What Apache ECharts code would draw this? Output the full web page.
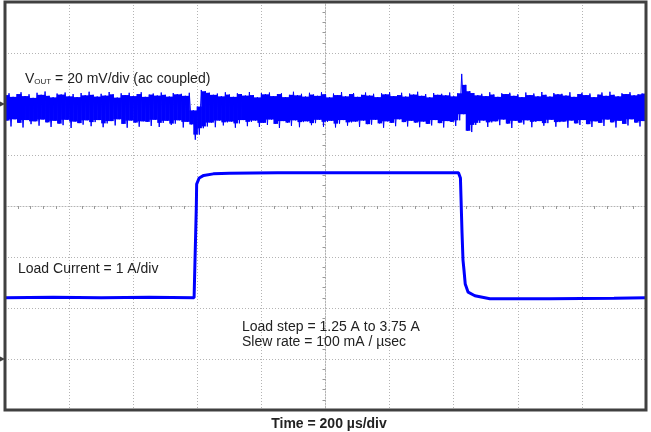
<!DOCTYPE html>
<html>
<head>
<meta charset="utf-8">
<script src="https://cdn.jsdelivr.net/npm/echarts@6/dist/echarts.min.js"></script>
<style>html,body{margin:0;padding:0;background:#fff}#c{width:651px;height:432px}</style>
</head>
<body>
<div id="c"></div>
<script>
// ---- Data (read from the scope capture) ----
// Vout ripple envelope (mV, ac coupled, 20 mV/div), one sample every 12.5 us
const voutStepUs = 12.5;
const voutUpper = [3.5,4.2,2.8,3.9,4.6,3.1,3.8,2.4,4.4,3.6,4.9,3.2,2.6,4.1,3.7,4.5,3.0,3.9,2.7,4.3,
3.4,4.8,3.6,2.9,4.0,3.3,4.7,3.8,2.5,4.2,3.5,4.4,3.1,3.9,4.6,2.8,3.7,4.1,3.3,4.5,
3.6,2.9,4.3,3.8,4.0,3.2,4.4,-2.5,-1.0,5.5,5.0,4.4,3.6,4.1,3.0,4.6,3.7,2.8,4.2,3.9,
3.3,4.7,3.5,2.6,4.3,3.8,4.5,3.1,3.9,4.2,2.7,3.6,4.8,3.4,4.0,2.9,4.4,3.7,3.2,4.6,
3.8,2.6,4.1,3.5,4.7,3.0,3.9,4.3,2.8,3.6,4.5,3.3,4.0,2.7,4.2,3.8,4.6,3.1,3.5,4.4,
2.9,4.1,3.7,4.8,3.2,3.9,2.6,4.3,3.6,4.0,3.4,4.5,3.0,4.2,11.8,7.5,5.0,4.3,3.4,4.0,
3.1,4.6,3.7,2.8,4.2,3.9,4.4,3.2,3.8,2.7,4.5,3.5,4.1,3.0,4.7,3.6,2.9,4.3,3.8,4.0,
3.3,4.6,2.8,3.9,4.4,3.5,4.1,2.7,3.7,4.5,3.2,4.8,3.6,3.0,4.2,3.9,4.6,3.4,3.8,4.1];
const voutLower = [-6.5,-8.8,-6.0,-7.4,-9.2,-6.3,-7.9,-6.8,-8.5,-6.1,-7.2,-9.0,-6.6,-7.7,-8.3,-6.2,-9.4,-6.9,-7.5,-8.1,
-6.4,-8.7,-7.1,-6.3,-9.1,-7.6,-6.7,-8.4,-6.0,-7.8,-9.3,-6.5,-7.3,-8.9,-6.8,-7.0,-8.6,-6.2,-9.0,-7.4,
-6.6,-8.2,-7.7,-6.4,-9.2,-7.0,-8.0,-14.0,-12.0,-9.5,-8.8,-7.3,-9.1,-6.5,-8.4,-7.2,-6.9,-9.3,-7.6,-6.3,
-8.7,-7.0,-6.5,-9.0,-7.4,-8.2,-6.1,-7.8,-9.4,-6.7,-7.3,-8.6,-6.4,-9.1,-7.1,-6.8,-8.3,-7.5,-6.2,-8.9,
-7.0,-6.6,-9.2,-7.7,-6.3,-8.5,-7.2,-6.9,-9.0,-6.5,-7.9,-8.1,-6.2,-7.6,-9.3,-6.8,-7.4,-8.7,-6.0,-7.1,
-8.8,-6.6,-7.3,-9.1,-6.9,-7.8,-8.4,-6.3,-7.5,-9.2,-6.7,-7.0,-8.6,-6.4,-4.0,-10.5,-11.0,-8.2,-7.4,-6.5,
-9.0,-7.2,-6.8,-8.3,-6.1,-7.7,-9.4,-6.6,-7.3,-8.0,-6.4,-9.1,-7.0,-6.7,-8.5,-7.5,-6.2,-8.9,-7.1,-6.9,
-9.3,-6.5,-7.6,-8.2,-6.3,-7.9,-9.0,-6.8,-7.4,-8.6,-6.1,-7.2,-9.2,-6.6,-7.8,-8.4,-6.0,-7.3,-8.8,-6.7];

// Load current (A, 1 A/div)
const currentT = [0,150,300,450,590,595,597,598,606,620,650,700,850,1000,1150,1300,1415,1421,1426,1429,1432,1436,1445,1466,1513,1700,1900,2000];
const currentA = [1.20,1.21,1.20,1.21,1.20,1.22,3.00,3.43,3.55,3.60,3.63,3.64,3.65,3.65,3.65,3.65,3.65,3.55,2.47,1.94,1.75,1.47,1.31,1.24,1.18,1.18,1.19,1.20];

// Axes (time 200 us/div, 10 div; Vout 20 mV/div; current 1 A/div)
const timeMin = 0, timeMax = 2000, timeDiv = 200;
const voutMin = -120, voutMax = 40, voutDiv = 20;
const curMin = -1, curMax = 7, curDiv = 1;

// ---- Build series ----
const voutData = [];
const coreData = [];
const n = voutUpper.length;
for (let i = 0; i < n; i++) {
  const t = i * voutStepUs;
  voutData.push([t, voutUpper[i]]);
  voutData.push([t + voutStepUs / 2, voutLower[i]]);
  const j = Math.min(i + 1, n - 1);
  coreData.push([t, t + voutStepUs, Math.min(voutUpper[i], voutUpper[j]), Math.max(voutLower[i], voutLower[j])]);
}
const curData = currentT.map((t, i) => [t, currentA[i]]);

const gridColor = '#b4b4b4';
const blue = '#0000ff';
const textColor = '#222';
const font = 'Liberation Sans, Arial, sans-serif';

const chart = echarts.init(document.getElementById('c'), null, {renderer: 'canvas'});
chart.setOption({
  animation: false,
  backgroundColor: '#fff',
  grid: {left: 5, right: 5, top: 2, bottom: 22, show: true, borderColor: '#404040', borderWidth: 3, backgroundColor: 'transparent', z: 5},
  xAxis: [
    {type: 'value', min: timeMin, max: timeMax, interval: timeDiv,
     axisLabel: {show: false}, axisTick: {show: false},
     axisLine: {show: true, onZero: true, onZeroAxisIndex: 2, lineStyle: {color: gridColor, type: [1, 2], width: 1}},
     minorTick: {show: true, splitNumber: 5, length: 3, lineStyle: {color: '#999'}},
     splitLine: {show: true, lineStyle: {color: gridColor, type: [1, 2], width: 1}}},
    {type: 'value', min: -5, max: 5, show: false}
  ],
  yAxis: [
    {type: 'value', min: voutMin, max: voutMax, interval: voutDiv,
     axisLabel: {show: false}, axisTick: {show: false},
     axisLine: {show: true, onZero: true, onZeroAxisIndex: 1, lineStyle: {color: gridColor, type: [1, 2], width: 1}},
     minorTick: {show: true, splitNumber: 5, length: 3, lineStyle: {color: '#999'}},
     splitLine: {show: true, lineStyle: {color: gridColor, type: [1, 2], width: 1}}},
    {type: 'value', min: curMin, max: curMax, interval: curDiv, show: false},
    {type: 'value', min: -4, max: 4, interval: 1, show: false}
  ],
  series: [
    {type: 'custom', xAxisIndex: 0, yAxisIndex: 0, data: coreData, silent: true, z: 2,
     encode: {x: [0, 1], y: [2, 3]},
     renderItem: function (params, api) {
       const p0 = api.coord([api.value(0), api.value(2)]);
       const p1 = api.coord([api.value(1), api.value(3)]);
       return {type: 'rect', shape: {x: p0[0], y: p0[1], width: p1[0] - p0[0] + 0.6, height: p1[1] - p0[1]},
               style: {fill: blue}};
     },
     clip: true},
    {type: 'line', xAxisIndex: 0, yAxisIndex: 0, data: voutData, showSymbol: false, symbol: 'none',
     lineStyle: {color: blue, width: 1}, z: 3,
     markPoint: {symbol: 'triangle', symbolSize: [6, 6], symbolRotate: -90, symbolOffset: [-3, 0], silent: true,
       itemStyle: {color: '#404040'}, label: {show: false}, data: [{coord: [timeMin, 0]}]}},
    {type: 'line', xAxisIndex: 0, yAxisIndex: 1, data: curData, showSymbol: false, symbol: 'none',
     lineStyle: {color: blue, width: 3}, z: 3,
     markPoint: {symbol: 'triangle', symbolSize: [6, 6], symbolRotate: -90, symbolOffset: [-3, 0], silent: true,
       itemStyle: {color: '#404040'}, label: {show: false}, data: [{coord: [timeMin, 0]}]}}
  ],
  graphic: [
    {type: 'text', x: 25, y: 79, z: 10, style: {
      text: '{a|V}{b|OUT}{a| = 20 mV/div (ac coupled)}', verticalAlign: 'middle',
      rich: {a: {fontSize: 14, fontFamily: font, fill: textColor, verticalAlign: 'bottom'},
             b: {fontSize: 8, fontFamily: font, fill: textColor, verticalAlign: 'bottom'}}}},
    {type: 'text', x: 18, y: 269, z: 10, style: {text: 'Load Current = 1 A/div', font: '14px ' + font, fill: textColor, verticalAlign: 'middle'}},
    {type: 'text', x: 242, y: 327, z: 10, style: {text: 'Load step = 1.25 A to 3.75 A', font: '14px ' + font, fill: textColor, verticalAlign: 'middle'}},
    {type: 'text', x: 242, y: 342, z: 10, style: {text: 'Slew rate = 100 mA / µsec', font: '14px ' + font, fill: textColor, verticalAlign: 'middle'}},
    {type: 'text', x: 329, y: 424, z: 10, style: {text: 'Time = 200 µs/div', font: 'bold 14px ' + font, fill: textColor, align: 'center', verticalAlign: 'middle'}}
  ]
});
</script>
</body>
</html>
